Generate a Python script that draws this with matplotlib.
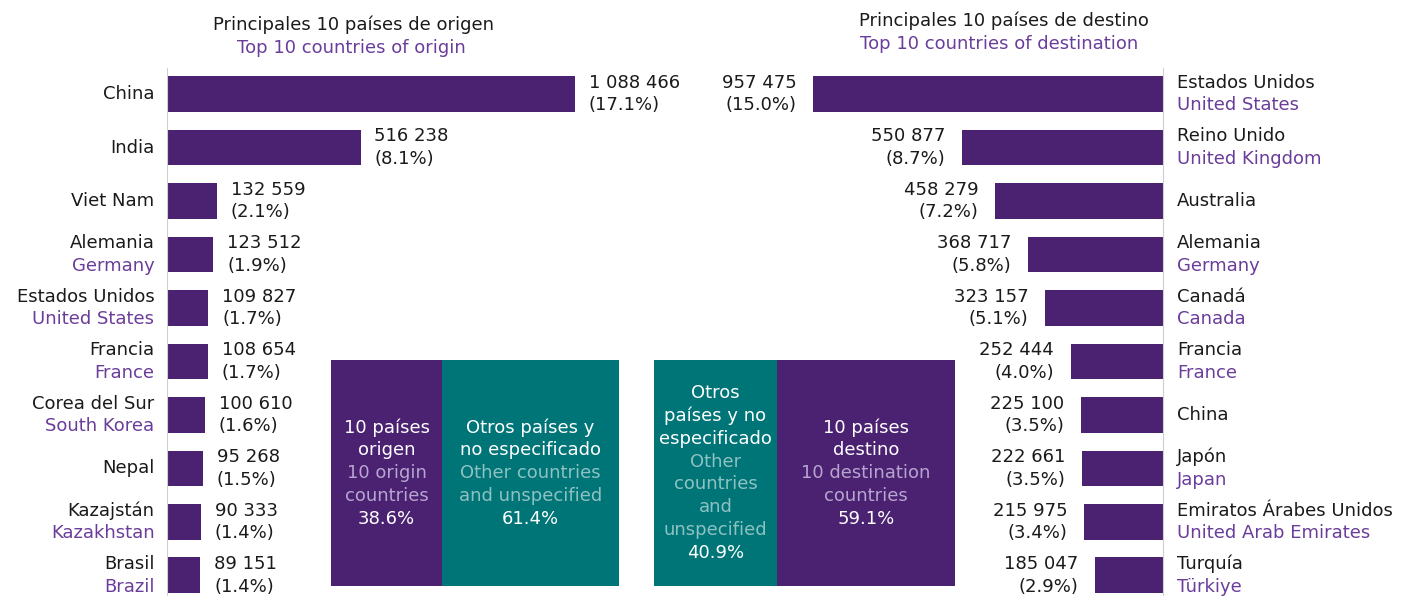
import matplotlib
matplotlib.use("Agg")
import matplotlib.pyplot as plt

plt.rcParams['font.family'] = ['DejaVu Sans']

# ---------------- data ----------------
origin_es = ["China", "India", "Viet Nam", "Alemania", "Estados Unidos", "Francia",
             "Corea del Sur", "Nepal", "Kazajstán", "Brasil"]
origin_en = [None, None, None, "Germany", "United States", "France",
             "South Korea", None, "Kazakhstan", "Brazil"]
origin_vals = [1088466, 516238, 132559, 123512, 109827, 108654, 100610, 95268, 90333, 89151]
origin_pct = [17.1, 8.1, 2.1, 1.9, 1.7, 1.7, 1.6, 1.5, 1.4, 1.4]

dest_es = ["Estados Unidos", "Reino Unido", "Australia", "Alemania", "Canadá", "Francia",
           "China", "Japón", "Emiratos Árabes Unidos", "Turquía"]
dest_en = ["United States", "United Kingdom", None, "Germany", "Canada", "France",
           None, "Japan", "United Arab Emirates", "Türkiye"]
dest_vals = [957475, 550877, 458279, 368717, 323157, 252444, 225100, 222661, 215975, 185047]
dest_pct = [15.0, 8.7, 7.2, 5.8, 5.1, 4.0, 3.5, 3.5, 3.4, 2.9]

origin_share = [38.6, 61.4]
dest_share = [40.9, 59.1]

# ---------------- style ----------------
PURPLE = "#4B2172"
TEAL = "#007577"
EN_PURPLE = "#6A3D9A"
BLACK = "#1a1a1a"
LIGHT_PURPLE_TXT = "#B7A5CF"
LIGHT_TEAL_TXT = "#8EC2C2"
AXIS_GREY = "#cfcfcf"
FS = 13
LINE = 8.2  # half line spacing in points

W, H = 1403, 596
fig = plt.figure(figsize=(W / 100, H / 100), dpi=100)


def px_axes(x0, y0, x1, y1):
    ax = fig.add_axes([x0 / W, 1 - y1 / H, (x1 - x0) / W, (y1 - y0) / H])
    ax.set_facecolor("none")
    for s in ax.spines.values():
        s.set_visible(False)
    ax.set_xticks([])
    ax.set_yticks([])
    return ax


def fmt(v):
    return f"{v:,}".replace(",", " ")


n = len(origin_vals)
ylim = (n - 1 + 0.385, -0.487)
bar_h = 0.67

# ---------------- left chart ----------------
axL = px_axes(167, 68, 700, 596)
scaleL = 408 / origin_vals[0]
axL.set_xlim(0, 533 / scaleL)
axL.set_ylim(*ylim)
axL.barh(range(n), origin_vals, height=bar_h, color=PURPLE)
axL.spines['left'].set_visible(True)
axL.spines['left'].set_color(AXIS_GREY)
for i in range(n):
    if origin_en[i]:
        axL.annotate(origin_es[i], (0, i), xytext=(-9, LINE), textcoords="offset points",
                     ha="right", va="center", fontsize=FS, color=BLACK, annotation_clip=False)
        axL.annotate(origin_en[i], (0, i), xytext=(-9, -LINE), textcoords="offset points",
                     ha="right", va="center", fontsize=FS, color=EN_PURPLE, annotation_clip=False)
    else:
        axL.annotate(origin_es[i], (0, i), xytext=(-9, 0), textcoords="offset points",
                     ha="right", va="center", fontsize=FS, color=BLACK, annotation_clip=False)
    axL.annotate(fmt(origin_vals[i]), (origin_vals[i], i), xytext=(10, LINE),
                 textcoords="offset points", ha="left", va="center", fontsize=FS, color=BLACK)
    axL.annotate(f"({origin_pct[i]:.1f}%)", (origin_vals[i], i), xytext=(10, -LINE),
                 textcoords="offset points", ha="left", va="center", fontsize=FS, color=BLACK)

# ---------------- right chart ----------------
axR = px_axes(700, 68, 1163, 596)
scaleR = 350 / dest_vals[0]
axR.set_xlim(463 / scaleR, 0)
axR.set_ylim(*ylim)
axR.barh(range(n), dest_vals, height=bar_h, color=PURPLE)
axR.spines['right'].set_visible(True)
axR.spines['right'].set_color(AXIS_GREY)
for i in range(n):
    if dest_en[i]:
        axR.annotate(dest_es[i], (0, i), xytext=(10, LINE), textcoords="offset points",
                     ha="left", va="center", fontsize=FS, color=BLACK, annotation_clip=False)
        axR.annotate(dest_en[i], (0, i), xytext=(10, -LINE), textcoords="offset points",
                     ha="left", va="center", fontsize=FS, color=EN_PURPLE, annotation_clip=False)
    else:
        axR.annotate(dest_es[i], (0, i), xytext=(10, 0), textcoords="offset points",
                     ha="left", va="center", fontsize=FS, color=BLACK, annotation_clip=False)
    axR.annotate(fmt(dest_vals[i]), (dest_vals[i], i), xytext=(-12, LINE),
                 textcoords="offset points", ha="right", va="center", fontsize=FS, color=BLACK)
    axR.annotate(f"({dest_pct[i]:.1f}%)", (dest_vals[i], i), xytext=(-12, -LINE),
                 textcoords="offset points", ha="right", va="center", fontsize=FS, color=BLACK)

# ---------------- share boxes ----------------
def share_box(x0, x1, shares, colors, blocks):
    ax = px_axes(x0, 360, x1, 586)
    ax.set_xlim(0, 100)
    ax.set_ylim(-0.5, 0.5)
    left = 0
    for s, c, blk in zip(shares, colors, blocks):
        ax.barh(0, s, left=left, height=1.0, color=c)
        cx = left + s / 2
        k = len(blk)
        for j, (txt, col) in enumerate(blk):
            off = ((k - 1) / 2 - j) * 2 * LINE
            ax.annotate(txt, (cx, 0), xytext=(0, off), textcoords="offset points",
                        ha="center", va="center", fontsize=FS, color=col,
                        annotation_clip=False)
        left += s


share_box(331, 619, origin_share, [PURPLE, TEAL], [
    [("10 países", "white"), ("origen", "white"), ("10 origin", LIGHT_PURPLE_TXT),
     ("countries", LIGHT_PURPLE_TXT), (f"{origin_share[0]:.1f}%", "white")],
    [("Otros países y", "white"), ("no especificado", "white"),
     ("Other countries", LIGHT_TEAL_TXT), ("and unspecified", LIGHT_TEAL_TXT),
     (f"{origin_share[1]:.1f}%", "white")],
])

share_box(654, 955, dest_share, [TEAL, PURPLE], [
    [("Otros", "white"), ("países y no", "white"), ("especificado", "white"),
     ("Other", LIGHT_TEAL_TXT), ("countries", LIGHT_TEAL_TXT), ("and", LIGHT_TEAL_TXT),
     ("unspecified", LIGHT_TEAL_TXT), (f"{dest_share[0]:.1f}%", "white")],
    [("10 países", "white"), ("destino", "white"), ("10 destination", LIGHT_PURPLE_TXT),
     ("countries", LIGHT_PURPLE_TXT), (f"{dest_share[1]:.1f}%", "white")],
])

# ---------------- titles ----------------
fig.text(353 / W, 1 - 25 / H, "Principales 10 países de origen", ha="center", va="center",
         fontsize=FS, color=BLACK)
fig.text(351 / W, 1 - 48 / H, "Top 10 countries of origin", ha="center", va="center",
         fontsize=FS, color=EN_PURPLE)
fig.text(1004 / W, 1 - 21 / H, "Principales 10 países de destino", ha="center", va="center",
         fontsize=FS, color=BLACK)
fig.text(999 / W, 1 - 44 / H, "Top 10 countries of destination", ha="center", va="center",
         fontsize=FS, color=EN_PURPLE)

fig.savefig("out.png", dpi=100, facecolor="white")
